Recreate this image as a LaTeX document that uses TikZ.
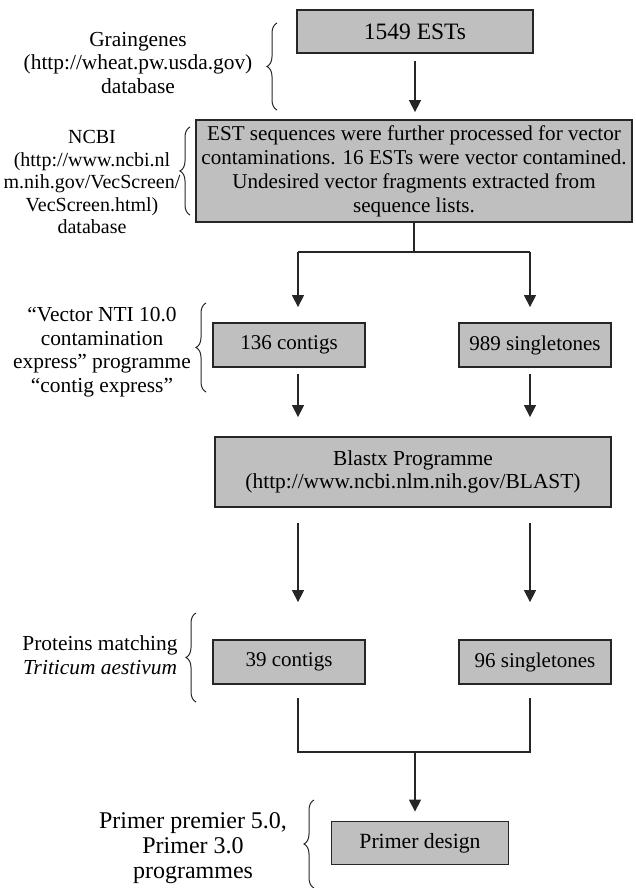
\documentclass[tikz,border=0pt]{standalone}
\usepackage{fontspec}
\setmainfont{Liberation Serif}
\usepackage{tikz}
\usetikzlibrary{arrows.meta,positioning,calc,decorations.pathreplacing}
\colorlet{flowGray}{black!25}
\colorlet{flowLine}{black!85}
\tikzset{
  >=Triangle,
  procbox/.style={
    fill=flowGray,
    draw=flowLine,
    line width=1.8pt,
    minimum width=152pt,
    minimum height=44pt,
    align=center,
    inner sep=1pt,
    font=\fontsize{21}{23.5}\selectfont
  },
  note/.style={
    align=center,
    inner sep=0pt,
    font=\fontsize{21.4}{23.5}\selectfont
  },
  arrow/.style={
    -{Triangle[length=12pt,width=12pt]},
    line width=1.4pt,
    draw=flowLine
  },
  link/.style={
    line width=1.4pt,
    draw=flowLine
  },
  bracket/.style={
    decorate,
    decoration={brace,amplitude=10pt},
    line width=1pt,
    draw=flowLine
  }
}

\begin{document}
\begin{tikzpicture}[x=1pt,y=-1pt]
\useasboundingbox (0,0) rectangle (635,888);

% boxes of the work flow
\node[procbox, minimum width=236pt, minimum height=43pt, font=\fontsize{23.5}{25}\selectfont] (est) at (415,31.5) {1549 ESTs};

\node[procbox, minimum width=436pt, minimum height=102pt, font=\fontsize{21.1}{24}\selectfont] (screen) at (414,171)
{EST sequences were further processed for vector\\
contaminations. 16 ESTs were vector contamined.\\
Undesired vector fragments extracted from\\
sequence lists.};

\node[procbox] (contigs) at (289,345) {136 contigs};
\node[procbox] (single) at (535,345) {989 singletones};

\node[procbox, minimum width=396pt, minimum height=70pt, font=\fontsize{21.4}{23.5}\selectfont] (blast) at (413,472)
{Blastx Programme\\
(http://www.ncbi.nlm.nih.gov/BLAST)};

\node[procbox] (pcontigs) at (289,662) {39 contigs};
\node[procbox] (psingle) at (535,662) {96 singletones};

\node[procbox, minimum width=177pt, minimum height=43pt, font=\fontsize{21.7}{23.5}\selectfont] (primer) at (420,843) {Primer design};

% labels on the left
\node[note] (graingenes) at (138,63)
{Graingenes\\(http://wheat.pw.usda.gov)\\database};

\node[note, font=\fontsize{20}{22.5}\selectfont] (ncbi) at (92,182)
{NCBI\\(http://www.ncbi.nl\\m.nih.gov/VecScreen/\\VecScreen.html)\\database};

\node[note] (vnti) at (102,352)
{“Vector NTI 10.0\\contamination\\express” programme\\“contig express”};

\node[note] (proteins) at (100,655)
{Proteins matching\\\textit{Triticum aestivum}};

\node[note, font=\fontsize{24}{25}\selectfont] (primerprog) at (193,848)
{Primer premier 5.0,\\Primer 3.0\\programmes};

% braces
\draw[bracket] (277,110) -- (277,23);
\draw[bracket] (190,215) -- (190,127);
\draw[bracket] (206,392) -- (206,303);
\draw[bracket] (196,702) -- (196,613);
\draw[bracket] (314,888) -- (314,800);

% connectors
\coordinate (split) at (414,252);
\coordinate (splitL) at (298,252);
\coordinate (splitR) at (530,252);
\coordinate (join) at (415,752);

\draw[arrow, shorten <=7pt, shorten >=7pt] (est.south) -- (est.south |- screen.north);
\draw[link] (screen.south) -- (split);
\draw[link] (splitL) -- (splitR);
\draw[arrow, shorten >=15pt] (splitL) -- (splitL |- contigs.north);
\draw[arrow, shorten >=15pt] (splitR) -- (splitR |- single.north);

\draw[arrow, shorten <=6pt, shorten >=19pt] (splitL |- contigs.south) -- (splitL |- blast.north);
\draw[arrow, shorten <=6pt, shorten >=19pt] (splitR |- single.south) -- (splitR |- blast.north);

\draw[arrow, shorten <=15pt, shorten >=37pt] (splitL |- blast.south) -- (splitL |- pcontigs.north);
\draw[arrow, shorten <=15pt, shorten >=37pt] (splitR |- blast.south) -- (splitR |- psingle.north);

\draw[link, shorten <=13pt, shorten >=13pt] (splitL |- pcontigs.south) |- (join) -| (splitR |- psingle.south);
\draw[arrow, shorten >=9pt] (join) -- (join |- primer.north);

\end{tikzpicture}
\end{document}
